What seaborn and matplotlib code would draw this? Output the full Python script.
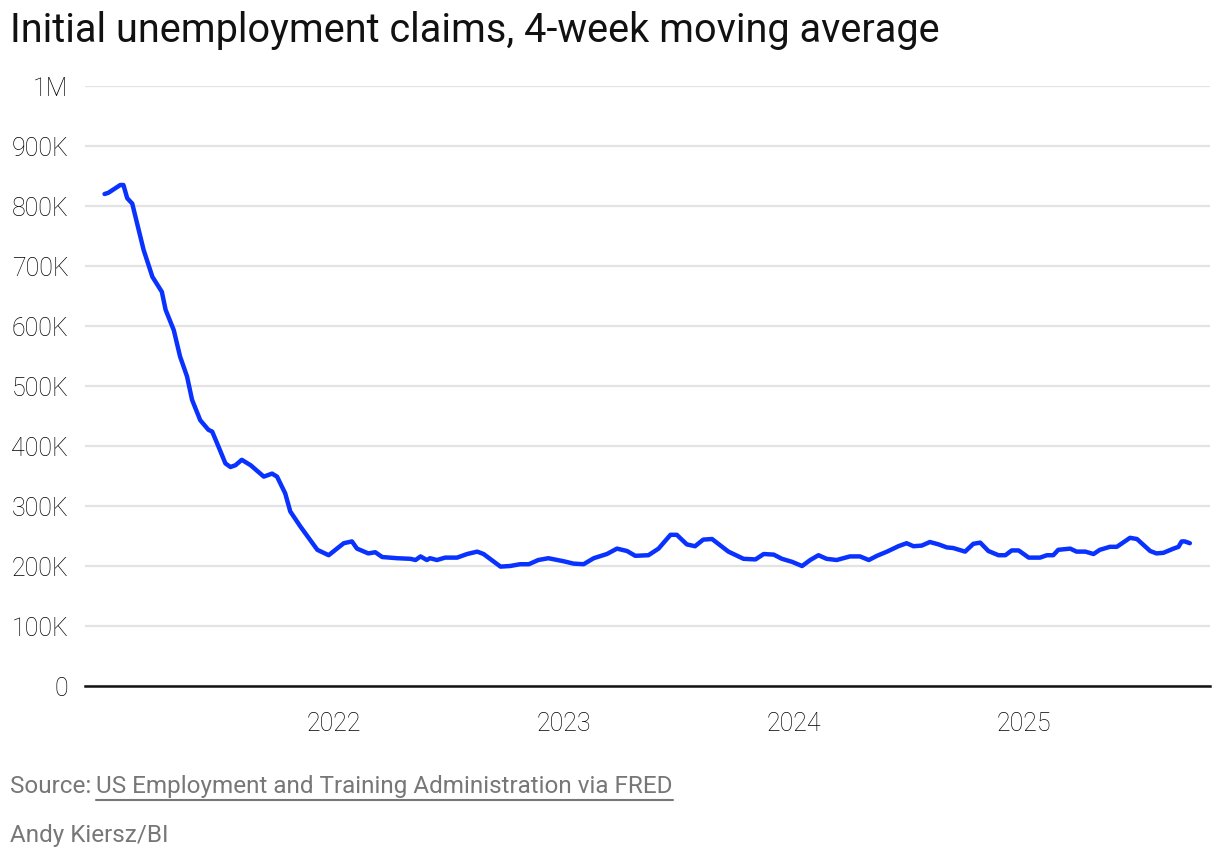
import pandas as pd
import matplotlib.pyplot as plt
import matplotlib.dates as mdates
from matplotlib.lines import Line2D
import seaborn as sns

# ===============================================================
# DATA (thousands of claims)
# ===============================================================
dates = [
    "2021-01-01", "2021-01-07", "2021-01-26", "2021-01-31", "2021-02-06", "2021-02-14",
    "2021-03-04", "2021-03-18", "2021-04-02", "2021-04-08", "2021-04-21", "2021-05-01",
    "2021-05-12", "2021-05-20", "2021-06-02", "2021-06-15", "2021-06-21", "2021-07-01",
    "2021-07-12", "2021-07-20", "2021-07-28", "2021-08-07", "2021-08-21", "2021-09-11",
    "2021-09-24", "2021-10-02", "2021-10-15", "2021-10-23", "2021-11-08", "2021-12-05",
    "2021-12-23", "2022-01-16", "2022-01-29", "2022-02-06", "2022-02-24", "2022-03-07",
    "2022-03-18", "2022-04-11", "2022-05-02", "2022-05-10", "2022-05-18", "2022-05-28",
    "2022-06-02", "2022-06-13", "2022-06-26", "2022-07-15", "2022-07-31", "2022-08-16",
    "2022-08-26", "2022-09-22", "2022-10-07", "2022-10-23", "2022-11-06", "2022-11-21",
    "2022-12-07", "2022-12-31", "2023-01-16", "2023-02-01", "2023-02-17", "2023-03-10",
    "2023-03-26", "2023-04-11", "2023-04-24", "2023-05-15", "2023-05-31", "2023-06-19",
    "2023-06-29", "2023-07-15", "2023-07-28", "2023-08-10", "2023-08-24", "2023-09-19",
    "2023-10-13", "2023-11-01", "2023-11-14", "2023-11-30", "2023-12-13", "2023-12-29",
    "2024-01-14", "2024-01-27", "2024-02-09", "2024-02-22", "2024-03-09", "2024-03-30",
    "2024-04-15", "2024-04-29", "2024-05-12", "2024-05-28", "2024-06-15", "2024-06-28",
    "2024-07-09", "2024-07-22", "2024-08-04", "2024-08-18", "2024-08-31", "2024-09-10",
    "2024-09-29", "2024-10-12", "2024-10-23", "2024-11-05", "2024-11-21", "2024-12-02",
    "2024-12-12", "2024-12-23", "2025-01-08", "2025-01-26", "2025-02-06", "2025-02-16",
    "2025-02-24", "2025-03-15", "2025-03-25", "2025-04-08", "2025-04-21", "2025-05-01",
    "2025-05-17", "2025-05-28", "2025-06-18", "2025-06-29", "2025-07-20", "2025-07-30",
    "2025-08-10", "2025-08-26", "2025-09-03", "2025-09-08", "2025-09-13", "2025-09-21",
]
claims_k = [
    820, 822, 835, 835, 813, 804,
    727, 682, 657, 627, 593, 549,
    516, 477, 443, 427, 424, 399,
    371, 365, 368, 377, 368, 349,
    354, 349, 321, 291, 266, 227,
    218, 238, 241, 229, 221, 223,
    215, 213, 212, 210, 216, 210,
    213, 210, 214, 214, 220, 224,
    220, 199, 200, 203, 203, 210,
    213, 208, 204, 203, 213, 220,
    229, 225, 217, 218, 229, 252,
    252, 236, 233, 244, 245, 224,
    212, 211, 220, 219, 212, 207,
    200, 210, 218, 212, 210, 216,
    216, 210, 217, 224, 233, 238,
    233, 234, 240, 236, 231, 230,
    224, 237, 239, 225, 218, 218,
    226, 226, 214, 214, 218, 218,
    227, 229, 224, 224, 220, 227,
    232, 232, 247, 245, 225, 221,
    222, 229, 232, 241, 241, 238,
]
y_ticks = [0, 100_000, 200_000, 300_000, 400_000, 500_000, 600_000, 700_000, 800_000, 900_000, 1_000_000]
y_labels = ["0", "100K", "200K", "300K", "400K", "500K", "600K", "700K", "800K", "900K", "1M"]
x_years = ["2022-01-01", "2023-01-01", "2024-01-01", "2025-01-01"]

df = pd.DataFrame({"date": pd.to_datetime(dates), "claims": [v * 1000 for v in claims_k]})

# ===============================================================
# PLOT
# ===============================================================
sns.set_style("white")
plt.rcParams["font.family"] = ["Roboto", "DejaVu Sans"]

fig = plt.figure(figsize=(12.2, 8.6), dpi=100)
ax = fig.add_axes([0.0697, 0.2023, 0.9221, 0.6977])

sns.lineplot(data=df, x="date", y="claims", ax=ax, color="#0a32ff", linewidth=3.2)

ax.set_ylim(0, 1_000_000)
ax.set_xlim(pd.Timestamp("2020-12-01"), pd.Timestamp("2025-10-23"))
ax.set_yticks(y_ticks)
ax.set_yticklabels(y_labels)
ax.set_xticks(pd.to_datetime(x_years))
ax.xaxis.set_major_formatter(mdates.DateFormatter("%Y"))
ax.set_xlabel("")
ax.set_ylabel("")

ax.grid(axis="y", color="#e3e3e3", linewidth=1.6)
ax.set_axisbelow(True)
for side in ["top", "right", "left"]:
    ax.spines[side].set_visible(False)
ax.spines["bottom"].set_color("#111111")
ax.spines["bottom"].set_linewidth(1.8)
ax.spines["bottom"].set_zorder(5)

ax.tick_params(axis="y", length=0, pad=12, labelsize=18, labelcolor="#000000")
ax.tick_params(axis="x", length=7, width=1.5, color="#dddddd", pad=12, labelsize=18, labelcolor="#000000")
for lbl in ax.get_xticklabels() + ax.get_yticklabels():
    lbl.set_fontweight("light")

# title and footer
fig.text(0.008, 0.965, "Initial unemployment claims, 4-week moving average",
         fontsize=28.5, color="#111111", va="center", ha="left")
fig.text(0.008, 0.086, "Source:", fontsize=17.5, color="#777777", va="center", ha="left")
fig.canvas.draw()
renderer = fig.canvas.get_renderer()
src = fig.texts[-1]
bb = src.get_window_extent(renderer).transformed(fig.transFigure.inverted())
link = fig.text(bb.x1 + 0.004, 0.086, "US Employment and Training Administration via FRED",
                fontsize=17.5, color="#777777", va="center", ha="left")
lb = link.get_window_extent(renderer).transformed(fig.transFigure.inverted())
fig.add_artist(Line2D([lb.x0, lb.x1], [lb.y0 - 0.003, lb.y0 - 0.003],
                      transform=fig.transFigure, color="#777777", linewidth=1.5))
fig.text(0.008, 0.028, "Andy Kiersz/BI", fontsize=17.5, color="#777777", va="center", ha="left")

fig.savefig("out.png", dpi=100)
